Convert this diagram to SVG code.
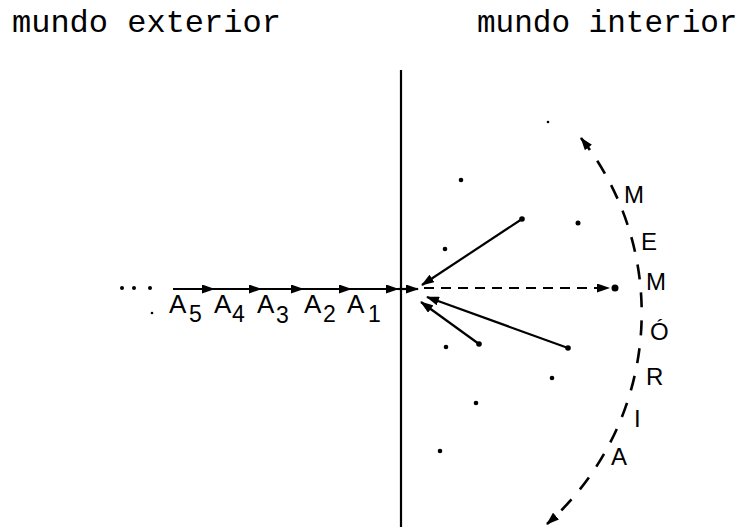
<svg xmlns="http://www.w3.org/2000/svg" width="747" height="527" viewBox="0 0 747 527">
<style>
.hdr{font-family:"Liberation Mono","DejaVu Sans Mono",monospace;font-size:31px;fill:#000}
.lbl{font-family:"Liberation Sans",Arial,sans-serif;font-size:26px;fill:#000}
.sub{font-family:"Liberation Sans",Arial,sans-serif;font-size:23px;fill:#000}
.mem{font-family:"Liberation Sans",Arial,sans-serif;font-size:24px;fill:#000}
.ln{stroke:#000;stroke-width:2.2;fill:none}
.dash{stroke:#000;stroke-width:2.2;fill:none;stroke-dasharray:10 7}
.arc{stroke:#000;stroke-width:2.6;fill:none;stroke-dasharray:15 13}
.dot{fill:#000}
</style>
<defs>
<marker id="ah" markerUnits="userSpaceOnUse" markerWidth="13" markerHeight="9" refX="12" refY="4.5" orient="auto-start-reverse">
<path d="M0,0 L13,4.5 L0,9 z" fill="#000"/>
</marker>
</defs>
<g id="headers">
<text class="hdr" x="12" y="32" style="font-size:32px">mundo exterior</text>
<text class="hdr" x="477" y="32">mundo interior</text>
</g>
<g id="boundary">
<line class="ln" x1="401" y1="70" x2="401" y2="527" stroke-width="2.6"/>
</g>
<g id="connectors">
<line class="ln" x1="173" y1="289" x2="214" y2="289" marker-end="url(#ah)"/>
<line class="ln" x1="214" y1="289" x2="261" y2="289" marker-end="url(#ah)"/>
<line class="ln" x1="261" y1="289" x2="303" y2="289" marker-end="url(#ah)"/>
<line class="ln" x1="303" y1="289" x2="351" y2="289" marker-end="url(#ah)"/>
<line class="ln" x1="351" y1="289" x2="398" y2="289" marker-end="url(#ah)"/>
<line class="ln" x1="398" y1="289" x2="418" y2="289" marker-end="url(#ah)"/>
<line class="dash" x1="424" y1="288" x2="609" y2="288" marker-end="url(#ah)"/>
<line class="ln" x1="522" y1="219" x2="422" y2="285" marker-end="url(#ah)"/>
<line class="ln" x1="568" y1="348" x2="427" y2="297" marker-end="url(#ah)"/>
<line class="ln" x1="479" y1="344" x2="421" y2="302" marker-end="url(#ah)"/>
<path class="arc" d="M581,138 A282.5,282.5 0 0 1 547,524" marker-start="url(#ah)" marker-end="url(#ah)"/>
</g>
<g id="dots">
<circle class="dot" cx="122" cy="288" r="2"/>
<circle class="dot" cx="134" cy="288" r="2"/>
<circle class="dot" cx="150" cy="288" r="2"/>
<circle class="dot" cx="152" cy="313" r="1.3"/>
<circle class="dot" cx="615" cy="288" r="3.5"/>
<circle class="dot" cx="522" cy="219" r="2.8"/>
<circle class="dot" cx="568" cy="348" r="2.8"/>
<circle class="dot" cx="479" cy="344" r="2.8"/>
<circle class="dot" cx="461" cy="180" r="2.3"/>
<circle class="dot" cx="548" cy="122" r="1.3"/>
<circle class="dot" cx="445" cy="249" r="2.3"/>
<circle class="dot" cx="578" cy="223" r="2.5"/>
<circle class="dot" cx="446" cy="347" r="2.3"/>
<circle class="dot" cx="552" cy="378" r="2.3"/>
<circle class="dot" cx="476" cy="403" r="2.3"/>
<circle class="dot" cx="440" cy="451" r="2.3"/>
</g>
<g id="labels-a">
<text class="lbl" x="169" y="313">A</text><text class="sub" x="189" y="322">5</text>
<text class="lbl" x="214" y="313">A</text><text class="sub" x="232" y="322">4</text>
<text class="lbl" x="257" y="313">A</text><text class="sub" x="276" y="323">3</text>
<text class="lbl" x="304" y="313">A</text><text class="sub" x="323" y="322">2</text>
<text class="lbl" x="347" y="313">A</text><text class="sub" x="368" y="322">1</text>
</g>
<g id="memoria">
<text class="mem" x="624" y="203">M</text>
<text class="mem" x="641" y="250">E</text>
<text class="mem" x="646" y="290">M</text>
<text class="mem" x="650" y="340">Ó</text>
<text class="mem" x="646" y="385">R</text>
<text class="mem" x="634" y="427">I</text>
<text class="mem" x="611" y="465">A</text>
</g>
</svg>
